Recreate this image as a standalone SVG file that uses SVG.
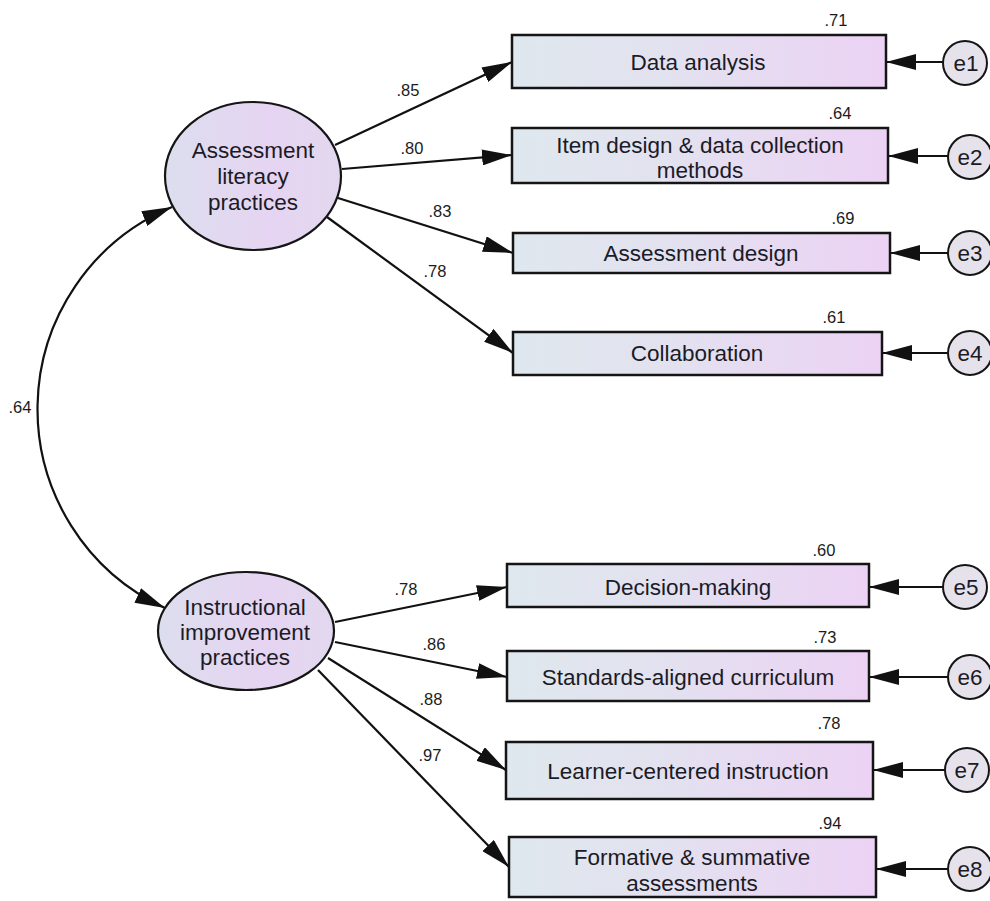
<svg xmlns="http://www.w3.org/2000/svg" width="990" height="901" viewBox="0 0 990 901">
<defs>
<linearGradient id="gBox" x1="0" y1="0" x2="1" y2="0">
<stop offset="0" stop-color="#dfe8ee"/>
<stop offset="0.45" stop-color="#e3e1f0"/>
<stop offset="1" stop-color="#ecd2f4"/>
</linearGradient>
<linearGradient id="gEll" x1="0" y1="0" x2="1" y2="0">
<stop offset="0" stop-color="#dcdeee"/>
<stop offset="0.6" stop-color="#e6d4f2"/>
<stop offset="1" stop-color="#e2d8ee"/>
</linearGradient>
<marker id="ah" markerUnits="userSpaceOnUse" markerWidth="30" markerHeight="16" viewBox="0 0 30 16" refX="30" refY="8" orient="auto-start-reverse">
<path d="M0,0 L30,8 L0,16 z" fill="#111"/>
</marker>
<style>
.box{fill:url(#gBox);stroke:#151515;stroke-width:2.5}
.lat{fill:url(#gEll);stroke:#151515;stroke-width:2.2}
.err{fill:#e6e2ec;stroke:#151515;stroke-width:2}
.t{font-family:"Liberation Sans",Arial,sans-serif;font-size:22.5px;fill:#1b1b26;text-anchor:middle;dominant-baseline:central}
.n{font-family:"Liberation Sans",Arial,sans-serif;font-size:16.5px;fill:#1b1b1b;text-anchor:middle;dominant-baseline:central}
.c{fill:none;stroke:#111;stroke-width:2.2;marker-end:url(#ah)}
.cc{fill:none;stroke:#111;stroke-width:2.2;marker-end:url(#ah);marker-start:url(#ah)}
</style>
</defs>
<rect width="990" height="901" fill="#ffffff"/>

<g id="connectors">
<path class="cc" d="M172,207 A219,219 0 0 0 165,608"/>
<path class="c" d="M335,145 L512,62"/>
<path class="c" d="M342,169 L512,155"/>
<path class="c" d="M338,198 L513,253"/>
<path class="c" d="M327,217 L513,353"/>
<path class="c" d="M335,622 L507,587"/>
<path class="c" d="M335,642 L507,677"/>
<path class="c" d="M328,658 L506,770"/>
<path class="c" d="M318,670 L509,867"/>
<path class="c" d="M943,62 L886,62"/>
<path class="c" d="M948,156 L888,156"/>
<path class="c" d="M948,253 L890,253"/>
<path class="c" d="M948,353 L882,353"/>
<path class="c" d="M943,587 L869,587"/>
<path class="c" d="M948,677 L869,677"/>
<path class="c" d="M945,770 L873,770"/>
<path class="c" d="M948,869 L876,869"/>
<text class="n" x="20" y="407">.64</text>
<text class="n" x="408" y="90">.85</text>
<text class="n" x="412" y="148">.80</text>
<text class="n" x="440" y="211">.83</text>
<text class="n" x="435" y="271">.78</text>
<text class="n" x="406" y="589">.78</text>
<text class="n" x="434" y="644">.86</text>
<text class="n" x="431" y="699">.88</text>
<text class="n" x="430" y="755">.97</text>
</g>

<g id="lat1">
<ellipse class="lat" cx="253" cy="176" rx="88" ry="74"/>
<text class="t" x="253" y="150">Assessment</text>
<text class="t" x="253" y="176">literacy</text>
<text class="t" x="253" y="202">practices</text>
</g>
<g id="lat2">
<ellipse class="lat" cx="246" cy="631" rx="88" ry="59"/>
<text class="t" x="245" y="607">Instructional</text>
<text class="t" x="245" y="632">improvement</text>
<text class="t" x="245" y="657">practices</text>
</g>

<g id="obs1">
<rect class="box" x="512" y="35" width="374" height="53"/>
<text class="t" x="698" y="62">Data analysis</text>
<text class="n" x="836" y="20">.71</text>
</g>
<g id="obs2">
<rect class="box" x="512" y="128" width="376" height="55"/>
<text class="t" x="700" y="145">Item design &amp; data collection</text>
<text class="t" x="700" y="170">methods</text>
<text class="n" x="840" y="113">.64</text>
</g>
<g id="obs3">
<rect class="box" x="513" y="233" width="377" height="40"/>
<text class="t" x="701" y="253">Assessment design</text>
<text class="n" x="843" y="218">.69</text>
</g>
<g id="obs4">
<rect class="box" x="513" y="332" width="369" height="43"/>
<text class="t" x="697" y="353">Collaboration</text>
<text class="n" x="834" y="317">.61</text>
</g>
<g id="obs5">
<rect class="box" x="507" y="564" width="362" height="43"/>
<text class="t" x="688" y="587">Decision-making</text>
<text class="n" x="824" y="550">.60</text>
</g>
<g id="obs6">
<rect class="box" x="507" y="651" width="362" height="50"/>
<text class="t" x="688" y="677">Standards-aligned curriculum</text>
<text class="n" x="825" y="637">.73</text>
</g>
<g id="obs7">
<rect class="box" x="506" y="742" width="367" height="57"/>
<text class="t" x="688" y="771">Learner-centered instruction</text>
<text class="n" x="829" y="723">.78</text>
</g>
<g id="obs8">
<rect class="box" x="509" y="837" width="367" height="60"/>
<text class="t" x="692" y="857">Formative &amp; summative</text>
<text class="t" x="692" y="883">assessments</text>
<text class="n" x="830" y="823">.94</text>
</g>

<g id="e1"><circle class="err" cx="965" cy="63" r="22"/><text class="t" x="966" y="63">e1</text></g>
<g id="e2"><circle class="err" cx="970" cy="157" r="22"/><text class="t" x="970" y="157">e2</text></g>
<g id="e3"><circle class="err" cx="970" cy="253" r="22"/><text class="t" x="970" y="253">e3</text></g>
<g id="e4"><circle class="err" cx="970" cy="353" r="22"/><text class="t" x="970" y="353">e4</text></g>
<g id="e5"><circle class="err" cx="965" cy="587" r="22"/><text class="t" x="966" y="587">e5</text></g>
<g id="e6"><circle class="err" cx="970" cy="677" r="22"/><text class="t" x="970" y="677">e6</text></g>
<g id="e7"><circle class="err" cx="967" cy="770" r="22"/><text class="t" x="967" y="770">e7</text></g>
<g id="e8"><circle class="err" cx="970" cy="869" r="22"/><text class="t" x="970" y="869">e8</text></g>
</svg>
